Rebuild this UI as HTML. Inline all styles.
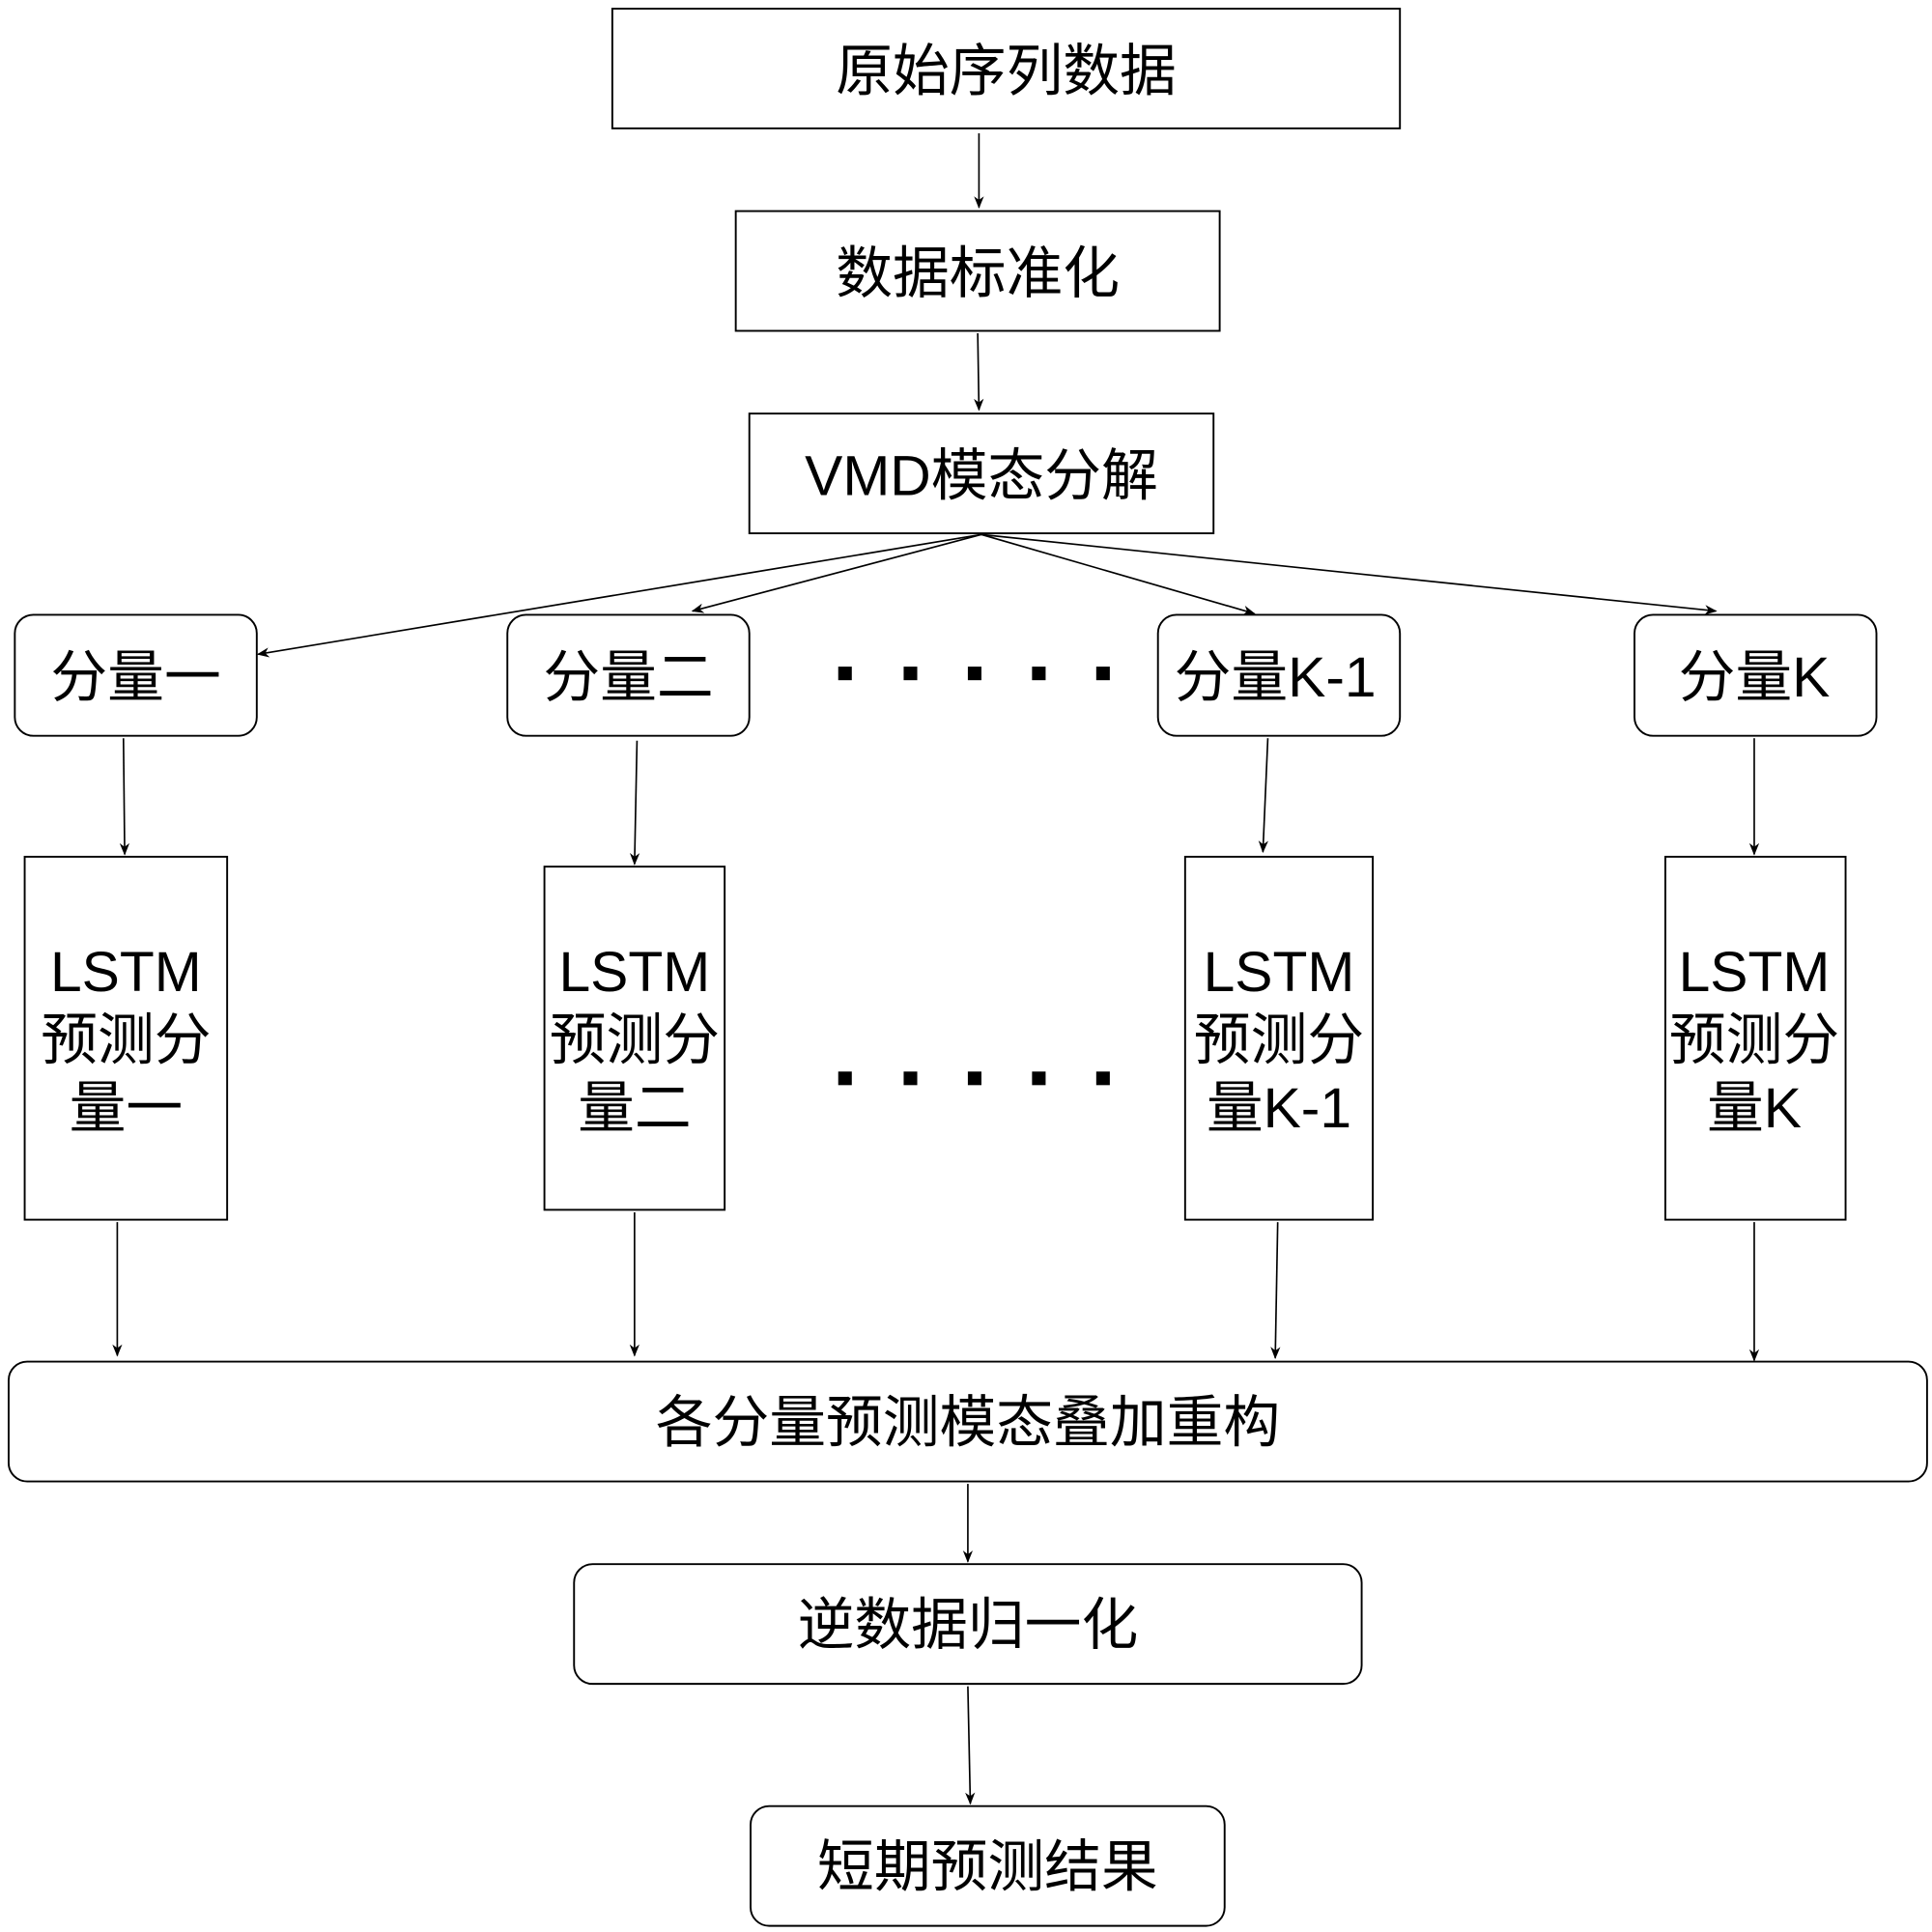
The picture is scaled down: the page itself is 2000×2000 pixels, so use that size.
<!DOCTYPE html>
<html><head><meta charset="utf-8"><style>html,body{margin:0;padding:0;background:#fff}svg{display:block}</style></head>
<body>
<svg width="2000" height="2000" viewBox="0 0 1565 1565" xmlns="http://www.w3.org/2000/svg">
<defs><marker id="a" markerWidth="10" markerHeight="10" refX="9" refY="5" orient="auto" markerUnits="userSpaceOnUse"><path d="M0,1 L10,5 L0,9 L3,5 Z" fill="#000"/></marker></defs>
<g fill="#fff" stroke="#000" stroke-width="1.5">
<rect x="496" y="7" width="638" height="97"/>
<rect x="596" y="171" width="392" height="97"/>
<rect x="607" y="335" width="376" height="97"/>
<rect x="12" y="498" width="196" height="98" rx="15"/>
<rect x="411" y="498" width="196" height="98" rx="15"/>
<rect x="938" y="498" width="196" height="98" rx="15"/>
<rect x="1324" y="498" width="196" height="98" rx="15"/>
<rect x="20" y="694" width="164" height="294"/>
<rect x="441" y="702" width="146" height="278"/>
<rect x="960" y="694" width="152" height="294"/>
<rect x="1349" y="694" width="146" height="294"/>
<rect x="7" y="1103" width="1554" height="97" rx="15"/>
<rect x="465" y="1267" width="638" height="97" rx="15"/>
<rect x="608" y="1463" width="384" height="97" rx="15"/>
</g>
<g fill="#000">
<rect x="679" y="540" width="11" height="11"/><rect x="732" y="540" width="11" height="11"/><rect x="784" y="540" width="11" height="11"/><rect x="836" y="540" width="11" height="11"/><rect x="888" y="540" width="11" height="11"/>
<rect x="679" y="868" width="11" height="11"/><rect x="732" y="868" width="11" height="11"/><rect x="784" y="868" width="11" height="11"/><rect x="836" y="868" width="11" height="11"/><rect x="888" y="868" width="11" height="11"/>
</g>
<g stroke="#000" stroke-width="1.3" fill="none" marker-end="url(#a)">
<line x1="793" y1="108" x2="793" y2="168"/>
<line x1="792" y1="270" x2="793" y2="332"/>
<line x1="795" y1="433" x2="209" y2="530"/>
<line x1="795" y1="433" x2="561" y2="495"/>
<line x1="795" y1="433" x2="1016" y2="497"/>
<line x1="795" y1="433" x2="1390" y2="495"/>
<line x1="100" y1="598" x2="101" y2="692"/>
<line x1="516" y1="600" x2="514" y2="700"/>
<line x1="1027" y1="598" x2="1023" y2="690"/>
<line x1="1421" y1="598" x2="1421" y2="692"/>
<line x1="95" y1="990" x2="95" y2="1098"/>
<line x1="514" y1="982" x2="514" y2="1098"/>
<line x1="1035" y1="990" x2="1033" y2="1100"/>
<line x1="1421" y1="990" x2="1421" y2="1102"/>
<line x1="784" y1="1202" x2="784" y2="1265"/>
<line x1="784" y1="1366" x2="786" y2="1461"/>
</g>
<g font-family="'Liberation Sans','Noto Sans CJK SC',sans-serif" font-size="46" text-anchor="middle" fill="#000">
<text x="815" y="73">原始序列数据</text>
<text x="792" y="237">数据标准化</text>
<text x="795" y="401">VMD模态分解</text>
<text x="110" y="564">分量一</text>
<text x="509" y="564">分量二</text>
<text x="1033" y="564">分量K-1</text>
<text x="1421" y="564">分量K</text>
<text x="102" y="803">LSTM</text><text x="102" y="858">预测分</text><text x="102" y="913">量一</text>
<text x="514" y="803">LSTM</text><text x="514" y="858">预测分</text><text x="514" y="913">量二</text>
<text x="1036" y="803">LSTM</text><text x="1036" y="858">预测分</text><text x="1036" y="913">量K-1</text>
<text x="1421" y="803">LSTM</text><text x="1421" y="858">预测分</text><text x="1421" y="913">量K</text>
<text x="784" y="1168">各分量预测模态叠加重构</text>
<text x="784" y="1332">逆数据归一化</text>
<text x="800" y="1528">短期预测结果</text>
</g>
</svg>
</body></html>
